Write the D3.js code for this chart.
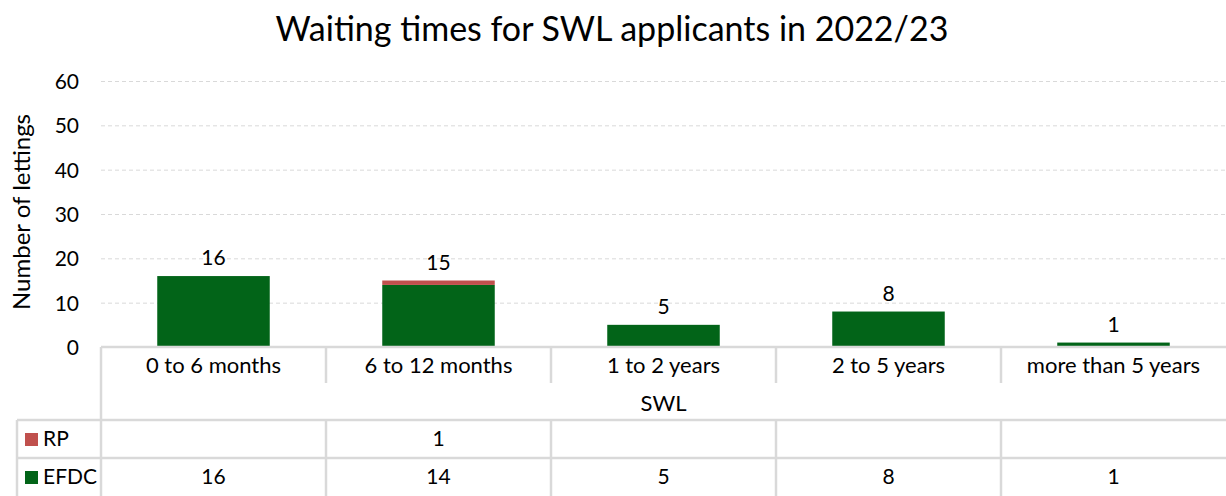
<!DOCTYPE html>
<html><head><meta charset="utf-8">
<script src="https://cdn.jsdelivr.net/npm/d3@7"></script>
<style>body{margin:0;background:#fff;} svg{display:block;font-family:Lato,"Open Sans",sans-serif;}</style>
</head><body>
<svg id="c" width="1226" height="496"></svg>
<script>
const categories = ["0 to 6 months","6 to 12 months","1 to 2 years","2 to 5 years","more than 5 years"];
const efdc = [16,14,5,8,1];
const rp = [0,1,0,0,0];
const rpLabels = ["","1","","",""];
const yTicks = [0,10,20,30,40,50,60];
const groupLabel = "SWL";
const title = "Waiting times for SWL applicants in 2022/23";
const yTitle = "Number of lettings";
const colors = {EFDC:"#026418", RP:"#c0504d"};

(function(){
const svg = d3.select("#c");
const pL = 101, pR = 1226, pT = 81, pB = 347;
const x = d3.scaleBand().domain(categories).range([pL,pR]).paddingInner(0).paddingOuter(0);
const y = d3.scaleLinear().domain([0,60]).range([pB, pT]);
const grid = "#d9d9d9";
const fs = 22;

svg.append("text").attr("x",612).attr("y",41).attr("text-anchor","middle")
  .attr("font-size",34).attr("fill","#000").text(title);

svg.append("g").selectAll("line").data(yTicks.filter(d=>d>0)).join("line")
  .attr("x1",pL).attr("x2",pR).attr("y1",d=>y(d)+0.5).attr("y2",d=>y(d)+0.5)
  .attr("stroke",grid).attr("stroke-dasharray","4,3").attr("stroke-width",1);

const ya = d3.axisLeft(y).tickValues(yTicks).tickSize(0).tickPadding(0);
const yg = svg.append("g").attr("transform",`translate(${pL-22},0)`).call(ya);
yg.select(".domain").remove();
yg.selectAll("text").attr("font-size",21).attr("fill","#000").attr("font-family","Lato,sans-serif").attr("dy","0.35em");

svg.append("text").attr("transform",`translate(30,${(pT+pB)/2-2}) rotate(-90)`)
  .attr("text-anchor","middle").attr("font-size",24).attr("fill","#000").text(yTitle);

const stack = d3.stack().keys(["EFDC","RP"])(categories.map((c,i)=>({cat:c,EFDC:efdc[i],RP:rp[i]})));
const bw = x.bandwidth()*0.5;
svg.append("g").selectAll("g").data(stack).join("g").attr("fill",d=>colors[d.key])
  .selectAll("rect").data(d=>d).join("rect")
  .attr("x",d=>x(d.data.cat)+(x.bandwidth()-bw)/2)
  .attr("width",bw)
  .attr("y",d=>y(d[1]))
  .attr("height",d=>y(d[0])-y(d[1]));

svg.append("g").selectAll("text").data(categories).join("text")
  .attr("x",c=>x(c)+x.bandwidth()/2)
  .attr("y",(c,i)=>y(efdc[i]+rp[i])-11)
  .attr("text-anchor","middle").attr("font-size",21).attr("fill","#000")
  .text((c,i)=>efdc[i]+rp[i]);

const r0 = pB, r1 = 383, r2 = 420, r3 = 458, r4 = 496;
const tl = svg.append("g").attr("stroke",grid).attr("stroke-width",2.5);
tl.append("line").attr("x1",pL).attr("x2",pR).attr("y1",r0).attr("y2",r0);
tl.append("line").attr("x1",17).attr("x2",pR).attr("y1",r2).attr("y2",r2);
tl.append("line").attr("x1",17).attr("x2",pR).attr("y1",r3).attr("y2",r3);
tl.append("line").attr("x1",pL).attr("x2",pL).attr("y1",r0).attr("y2",r4);
tl.append("line").attr("x1",17).attr("x2",17).attr("y1",r2).attr("y2",r4);
const seps = categories.slice(1).map(c=>x(c));
tl.selectAll(".s1").data(seps).join("line").attr("class","s1").attr("x1",d=>d).attr("x2",d=>d).attr("y1",r0).attr("y2",r1);
tl.selectAll(".s2").data(seps).join("line").attr("class","s2").attr("x1",d=>d).attr("x2",d=>d).attr("y1",r2).attr("y2",r4);

svg.append("g").selectAll("text").data(categories).join("text")
  .attr("x",c=>x(c)+x.bandwidth()/2).attr("y",(r0+r1)/2).attr("dy","0.35em")
  .attr("text-anchor","middle").attr("font-size",fs).text(c=>c);
svg.append("text").attr("x",(pL+pR)/2).attr("y",(r1+r2)/2+2).attr("dy","0.35em")
  .attr("text-anchor","middle").attr("font-size",fs).text(groupLabel);

const rows = [{name:"RP",vals:rpLabels,y0:r2,y1:r3},{name:"EFDC",vals:efdc.map(String),y0:r3,y1:r4}];
rows.forEach(r=>{
  const cy=(r.y0+r.y1)/2;
  svg.append("rect").attr("x",25).attr("y",cy-6).attr("width",13).attr("height",13).attr("fill",colors[r.name]);
  svg.append("text").attr("x",43).attr("y",cy).attr("dy","0.35em").attr("font-size",21).text(r.name);
  svg.append("g").selectAll("text").data(r.vals).join("text")
    .attr("x",(v,i)=>x(categories[i])+x.bandwidth()/2).attr("y",cy).attr("dy","0.35em")
    .attr("text-anchor","middle").attr("font-size",21).text(v=>v);
});
})();
</script>
</body></html>
